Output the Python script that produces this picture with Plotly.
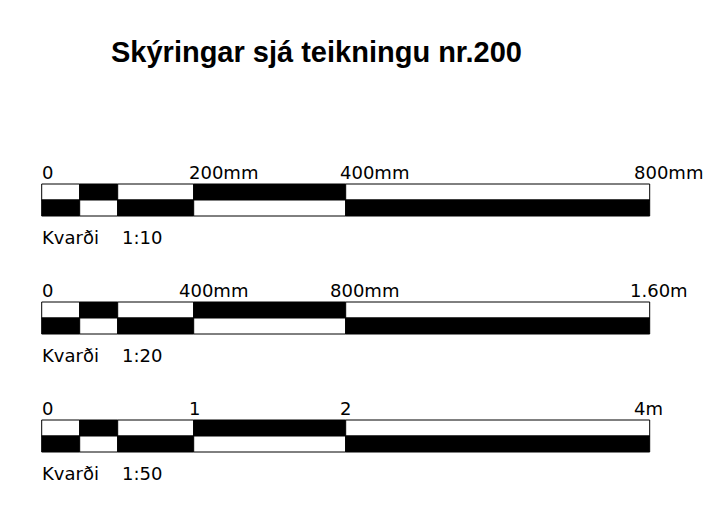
import plotly.graph_objects as go

# ---- data ----
title_text = "Skýringar sjá teikningu nr.200"
segment_edges = [0, 50, 100, 200, 400, 800]
tick_values = [0, 200, 400, 800]
tick_labels = [
    ["0", "200mm", "400mm", "800mm"],
    ["0", "400mm", "800mm", "1.60m"],
    ["0", "1", "2", "4m"],
]
scale_word = "Kvarði"
scale_names = ["1:10", "1:20", "1:50"]
rows = [0, 1, 2]

# ---- style / layout ----
OFF = 8                       # default page body margin
W, H = 724 - 2 * OFF, 512 - 2 * OFF
PX0, PPU = 41.7 - OFF, 0.76    # x pixel of 0, pixels per unit
PY0, PPR = 200.0 - OFF, 118.0  # y pixel of row 0, pixels per row
half_h = 16.0 / PPR            # half-bar height in row units
label_shift = [[-2, -7, -8, -18], [-2, -17, -18, -22], [-2, -7, -8, -18]]
label_dy = -28.0 / PPR
kv_dy = 37.0 / PPR
font_lbl = dict(family="DejaVu Sans", size=18, color="black")

fig = go.Figure()

starts = segment_edges[:-1]
lengths = [b - a for a, b in zip(segment_edges[:-1], segment_edges[1:])]
nseg = len(starts)

for half, sign in (("top", -1), ("bottom", 1)):
    ys, xs, bs, cols = [], [], [], []
    for r in rows:
        for i in range(nseg):
            ys.append(r + sign * half_h / 2)
            xs.append(lengths[i])
            bs.append(starts[i])
            white = (i % 2 == 0) if half == "top" else (i % 2 == 1)
            cols.append("white" if white else "black")
    fig.add_trace(go.Bar(
        orientation="h", y=ys, x=xs, base=bs, width=half_h,
        marker=dict(color=cols, line=dict(color="black", width=1)),
        hoverinfo="skip", showlegend=False,
    ))

for r, labels, shifts, sname in zip(rows, tick_labels, label_shift, scale_names):
    for tv, lab, sh in zip(tick_values, labels, shifts):
        fig.add_annotation(x=tv, y=r + label_dy, text=lab, showarrow=False,
                           xanchor="left", yanchor="middle", xshift=sh,
                           font=font_lbl)
    fig.add_annotation(x=0, y=r + kv_dy, text=scale_word, showarrow=False,
                       xanchor="left", yanchor="middle", xshift=-2, font=font_lbl)
    fig.add_annotation(x=0, y=r + kv_dy, text=sname, showarrow=False,
                       xanchor="left", yanchor="middle", xshift=78, font=font_lbl)

fig.add_annotation(xref="paper", yref="paper", x=(316.5 - OFF) / W,
                   y=1 - (52 - OFF) / H,
                   text=title_text, showarrow=False, xanchor="center",
                   yanchor="middle",
                   font=dict(family="Liberation Sans", size=29, color="black",
                             weight="bold"))

fig.update_layout(
    width=W, height=H, margin=dict(l=0, r=0, t=0, b=0),
    paper_bgcolor="white", plot_bgcolor="white", barmode="overlay",
    xaxis=dict(range=[-PX0 / PPU, (W - PX0) / PPU], visible=False, fixedrange=True),
    yaxis=dict(range=[(H - PY0) / PPR, -PY0 / PPR], visible=False, fixedrange=True),
)

fig.write_html("out.html")
